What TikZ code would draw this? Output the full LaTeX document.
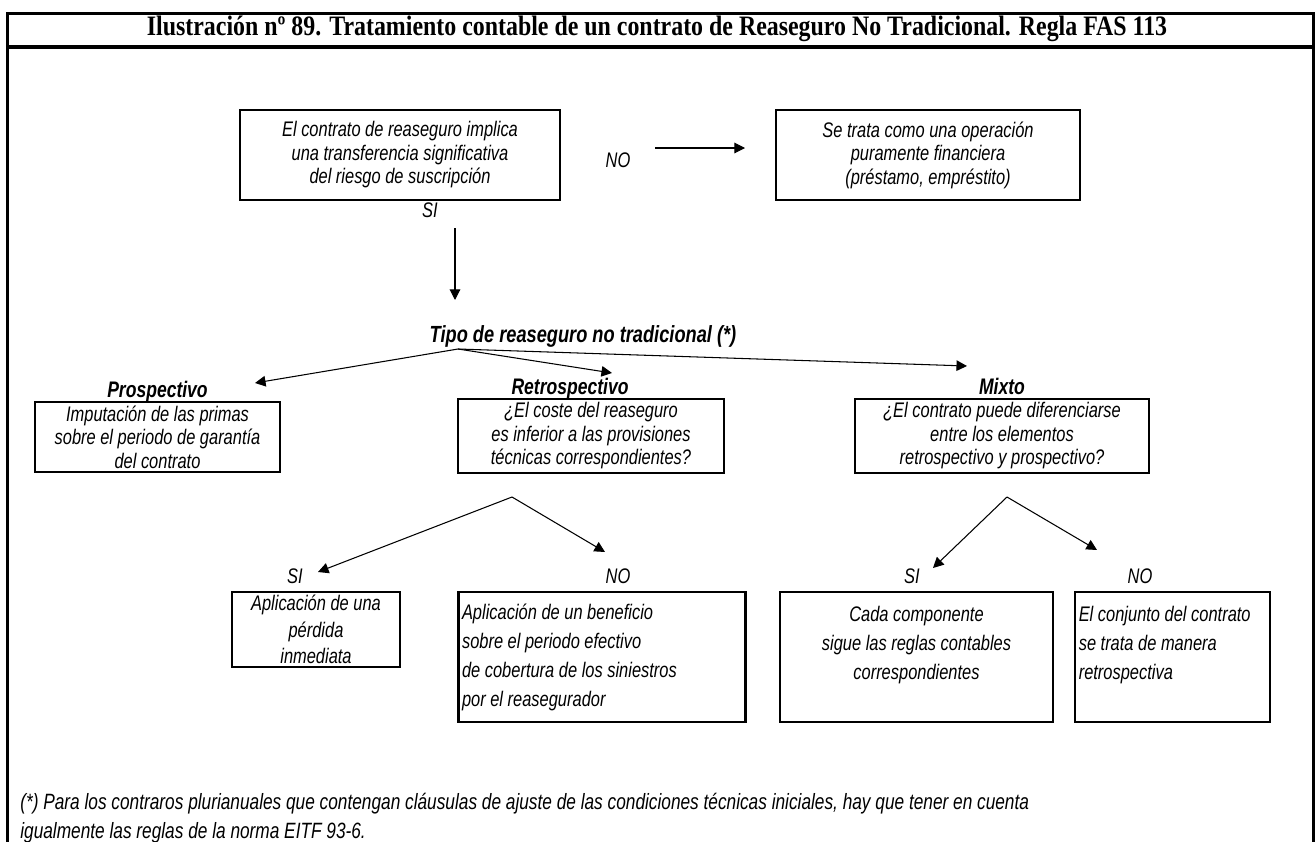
\documentclass[tikz,border=0pt]{standalone}
\usepackage{fontspec}
\setmainfont{Liberation Sans}[FakeStretch=0.78]
\newfontfamily\titlefont{Liberation Serif}[FakeStretch=0.85]
\usetikzlibrary{arrows.meta,positioning}

\begin{document}
\begin{tikzpicture}[
    x=0.02cm, y=-0.02cm,
    box/.style={rectangle, draw, line width=1.3pt, inner sep=2pt, align=center,
        font=\fontsize{12}{13.4}\selectfont\itshape},
    tallbox/.style={box, minimum height=2.6cm, font=\fontsize{12}{16.5}\selectfont\itshape},
    answer/.style={inner sep=1pt, font=\fontsize{12}{13.4}\selectfont\itshape},
    head/.style={inner sep=0pt, anchor=base, font=\fontsize{12.8}{14}\selectfont\bfseries\itshape},
    arrow/.style={-{Triangle[length=6pt,width=6pt]}, line width=0.6pt}
]
\useasboundingbox (0,0) rectangle (1316,842);

% frame and title bar
\draw[line width=2pt] (7.5,842) -- (7.5,13.5) -- (1313.5,13.5) -- (1313.5,842);
\draw[line width=2pt] (7.5,47) -- (1313.5,47);
\node[font=\fontsize{16}{18}\selectfont\titlefont\bfseries] (title) at (657,29)
    {Ilustración nº 89. Tratamiento contable de un contrato de Reaseguro No Tradicional. Regla FAS 113};

% first question
\node[box, minimum width=6.4cm, minimum height=1.8cm] (transfer) at (400,155)
    {El contrato de reaseguro implica\\ una transferencia significativa\\ del riesgo de suscripción};
\node[box, minimum width=6.08cm, minimum height=1.8cm] (financial) at (928,155)
    {Se trata como una operación\\ puramente financiera\\ (préstamo, empréstito)};
\node[answer] (no0) at (618,160) {NO};
\node[answer] (si0) at (430,210) {SI};
\coordinate (no0start) at (655,148);
\coordinate (no0end) at (745,148);
\coordinate (si0start) at (455,228);
\coordinate (si0end) at (455,300);
\draw[arrow] (no0start) -- (no0end);
\draw[arrow] (si0start) -- (si0end);

% type of contract
\node[head, font=\fontsize{13.3}{14}\selectfont\bfseries\itshape] (type) at (583,342)
    {Tipo de reaseguro no tradicional (*)};
\coordinate (fork) at (458,349);

\node[box, minimum width=4.9cm, minimum height=1.32cm] (prosp) at (157.5,437)
    {Imputación de las primas\\ sobre el periodo de garantía\\ del contrato};
\node[box, minimum width=5.32cm, minimum height=1.28cm] (retro) at (591,436)
    {¿El coste del reaseguro\\ es inferior a las provisiones\\ técnicas correspondientes?};
\node[box, minimum width=5.88cm, minimum height=1.28cm] (mixed) at (1002,436)
    {¿El contrato puede diferenciarse\\ entre los elementos\\ retrospectivo y prospectivo?};

\node[head] (prosplbl) at ([yshift=1.8pt]prosp.north) {Prospectivo};
\node[head] (retrolbl) at ([xshift=-0.42cm, yshift=1.8pt]retro.north) {Retrospectivo};
\node[head] (mixedlbl) at ([yshift=1.8pt]mixed.north) {Mixto};

\coordinate (prospend) at (255,383);
\coordinate (retroend) at (612,373);
\coordinate (mixedend) at (967,366);
\draw[arrow] (fork) -- (prospend);
\draw[arrow] (fork) -- (retroend);
\draw[arrow] (fork) -- (mixedend);

% retrospective outcomes
\node[box, minimum width=3.36cm, minimum height=1.5cm, font=\fontsize{12}{15}\selectfont\itshape] (loss) at (316,629.5)
    {Aplicación de una\\ pérdida\\ inmediata};
\node[tallbox, align=flush left, text width=5.6cm] (profit) at (602,657)
    {Aplicación de un beneficio\\ sobre el periodo efectivo\\ de cobertura de los siniestros\\ por el reasegurador};
\node[answer] (si1) at (295,576) {SI};
\node[answer] (no1) at (618,576) {NO};
\coordinate (retrofork) at (512,497);
\coordinate (si1end) at (318,572);
\coordinate (no1end) at (605,552);
\draw[arrow] (retrofork) -- (si1end);
\draw[arrow] (retrofork) -- (no1end);

% mixed outcomes
\node[tallbox, minimum width=5.46cm] (split) at (916.5,657)
    {Cada componente\\ sigue las reglas contables\\ correspondientes\\ ~};
\node[tallbox, align=flush left, text width=3.75cm] (whole) at (1172.5,657)
    {El conjunto del contrato\\ se trata de manera\\ retrospectiva\\ ~};
\node[answer] (si2) at (912,576) {SI};
\node[answer] (no2) at (1140,576) {NO};
\coordinate (mixedfork) at (1007,497);
\coordinate (si2end) at (933,568);
\coordinate (no2end) at (1097,550);
\draw[arrow] (mixedfork) -- (si2end);
\draw[arrow] (mixedfork) -- (no2end);

% footnote
\node[anchor=west, align=left, inner sep=0pt, font=\fontsize{12.6}{16.5}\selectfont\itshape] (note) at (20,818)
    {(*) Para los contraros plurianuales que contengan cláusulas de ajuste de las condiciones técnicas iniciales, hay que tener en cuenta\\
     igualmente las reglas de la norma EITF 93-6.};
\end{tikzpicture}
\end{document}
